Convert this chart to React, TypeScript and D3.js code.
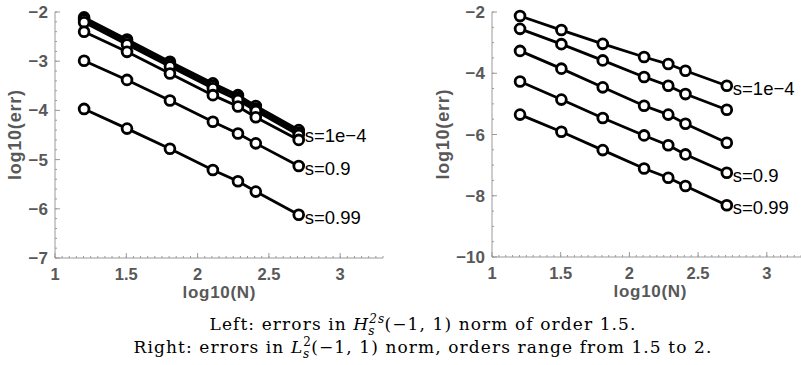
import React from 'react';
import * as d3 from 'd3';

// x positions: log10 of N = 16, 32, 64, 128, 192, 256, 512
const logN = [1.204, 1.505, 1.806, 2.107, 2.283, 2.408, 2.709];

// left panel: H_s^{2s} errors
const leftSeries = [
  [-2.11, -2.56, -3.01, -3.45, -3.69, -3.91, -4.40],
  [-2.16, -2.61, -3.06, -3.50, -3.74, -3.96, -4.45],
  [-2.21, -2.66, -3.11, -3.55, -3.79, -4.01, -4.50],
  [-2.40, -2.81, -3.25, -3.69, -3.92, -4.14, -4.60],
  [-2.99, -3.38, -3.80, -4.23, -4.47, -4.67, -5.13],
  [-3.97, -4.37, -4.78, -5.21, -5.44, -5.65, -6.12],
];
const leftLabels = [
  { idx: 1, text: 's=1e\u22124' },
  { idx: 4, text: 's=0.9' },
  { idx: 5, text: 's=0.99' },
];

// right panel: L2 errors
const rightSeries = [
  [-2.13, -2.59, -3.04, -3.47, -3.70, -3.92, -4.41],
  [-2.55, -3.05, -3.58, -4.12, -4.41, -4.68, -5.19],
  [-3.27, -3.85, -4.46, -5.06, -5.35, -5.65, -6.27],
  [-4.27, -4.86, -5.46, -6.03, -6.35, -6.65, -7.25],
  [-5.35, -5.91, -6.51, -7.11, -7.41, -7.68, -8.31],
];
const rightLabels = [
  { idx: 0, text: 's=1e\u22124' },
  { idx: 3, text: 's=0.9' },
  { idx: 4, text: 's=0.99' },
];

const xTicks = [1, 1.5, 2, 2.5, 3];
const leftYTicks = [-7, -6, -5, -4, -3, -2];
const rightYTicks = [-10, -8, -6, -4, -2];

const axisColor = '#9a9a9a';
const tickText = '#585858';
const sans = 'Liberation Sans, Arial, sans-serif';
const serif = 'DejaVu Serif, Liberation Serif, serif';

type PanelProps = {
  series: number[][];
  labels: { idx: number; text: string }[];
  yTicks: number[];
  yMinorStep: number;
  xRange: [number, number];
  yDomain: [number, number];
  yRange: [number, number];
  titleX: number;
};

const Panel = ({ series, labels, yTicks, yMinorStep, xRange, yDomain, yRange, titleX }: PanelProps) => {
  const x = d3.scaleLinear().domain([1, 3.3]).range(xRange);
  const y = d3.scaleLinear().domain(yDomain).range(yRange);
  const line = d3.line<number>().x((_, i) => x(logN[i])).y(d => y(d));
  const x0 = x(1);
  const y0 = y(yDomain[0]);

  const xMinor = d3.range(1, 3.3001, 0.05);
  const yMinor = d3.range(yDomain[0], yDomain[1] + 0.001, yMinorStep);

  return (
    <g>
      {/* axes */}
      <line x1={x0} x2={xRange[1]} y1={y0} y2={y0} stroke={axisColor} strokeWidth={1} />
      <line x1={x0} x2={x0} y1={y0} y2={y(yDomain[1])} stroke={axisColor} strokeWidth={1} />
      {xMinor.map((t, i) => (
        <line key={'xm' + i} x1={x(t)} x2={x(t)} y1={y0} y2={y0 - 2} stroke={axisColor} />
      ))}
      {xTicks.map(t => (
        <g key={'xt' + t}>
          <line x1={x(t)} x2={x(t)} y1={y0} y2={y0 - 5} stroke={axisColor} />
          <text x={x(t)} y={y0 + 22} textAnchor="middle" fontFamily={sans} fontWeight="bold"
            fontSize={16.5} fill={tickText}>{t}</text>
        </g>
      ))}
      {yMinor.map((t, i) => (
        <line key={'ym' + i} x1={x0} x2={x0 + 2} y1={y(t)} y2={y(t)} stroke={axisColor} />
      ))}
      {yTicks.map(t => (
        <g key={'yt' + t}>
          <line x1={x0} x2={x0 + 5} y1={y(t)} y2={y(t)} stroke={axisColor} />
          <text x={x0 - 7} y={y(t) + 6} textAnchor="end" fontFamily={sans} fontWeight="bold"
            fontSize={17} fill={tickText}>{String(t).replace('-', '\u2212')}</text>
        </g>
      ))}
      <text x={(xRange[0] + xRange[1]) / 2} y={y0 + 40} textAnchor="middle" fontFamily={sans}
        fontWeight="bold" fontSize={17} fill={tickText} textLength={73}>log10(N)</text>
      <text transform={`translate(${titleX},${(y0 + y(yDomain[1])) / 2}) rotate(-90)`}
        textAnchor="middle" dy={6} fontFamily={sans} fontWeight="bold" fontSize={18}
        fill={tickText} textLength={90}>log10(err)</text>

      {/* series */}
      {series.map((s, k) => (
        <path key={'l' + k} d={line(s) || ''} fill="none" stroke="#000" strokeWidth={2.8} />
      ))}
      {series.map((s, k) =>
        s.map((v, i) => (
          <circle key={`c${k}-${i}`} cx={x(logN[i])} cy={y(v)} r={4.9} fill="#fff"
            stroke="#000" strokeWidth={2.8} />
        ))
      )}
      {labels.map(l => (
        <text key={l.text} x={x(logN[6]) + 6} y={y(series[l.idx][6]) + 9}
          fontFamily={sans} fontSize={18.5} fill="#000">{l.text}</text>
      ))}
    </g>
  );
};

export default function App() {
  return (
    <svg width={801} height={365} style={{ position: 'absolute', left: 0, top: 0, background: '#fff' }}>
      <Panel series={leftSeries} labels={leftLabels} yTicks={leftYTicks} yMinorStep={0.2}
        xRange={[55, 383]} yDomain={[-7, -2]} yRange={[258, 12]} titleX={15} />
      <Panel series={rightSeries} labels={rightLabels} yTicks={rightYTicks} yMinorStep={0.5}
        xRange={[492, 808]} yDomain={[-10, -2]} yRange={[257, 12]} titleX={443} />

      <text x={423} y={330} textAnchor="middle" fontFamily={serif} fontSize={17}
        letterSpacing={1.1} fill="#000">
        Left: errors in <tspan fontStyle="italic">H</tspan>
        <tspan fontStyle="italic" fontSize={12} dy={-7}>2s</tspan>
        <tspan fontStyle="italic" fontSize={12} dx={-17} dy={12}>s</tspan>
        <tspan dx={9} dy={-5}>(−1, 1) norm of order 1.5.</tspan>
      </text>
      <text x={423} y={353} textAnchor="middle" fontFamily={serif} fontSize={17}
        letterSpacing={1.1} fill="#000">
        Right: errors in <tspan fontStyle="italic">L</tspan>
        <tspan fontSize={12} dy={-7}>2</tspan>
        <tspan fontStyle="italic" fontSize={12} dx={-9} dy={12}>s</tspan>
        <tspan dx={1} dy={-5}>(−1, 1) norm, orders range from 1.5 to 2.</tspan>
      </text>
    </svg>
  );
}
